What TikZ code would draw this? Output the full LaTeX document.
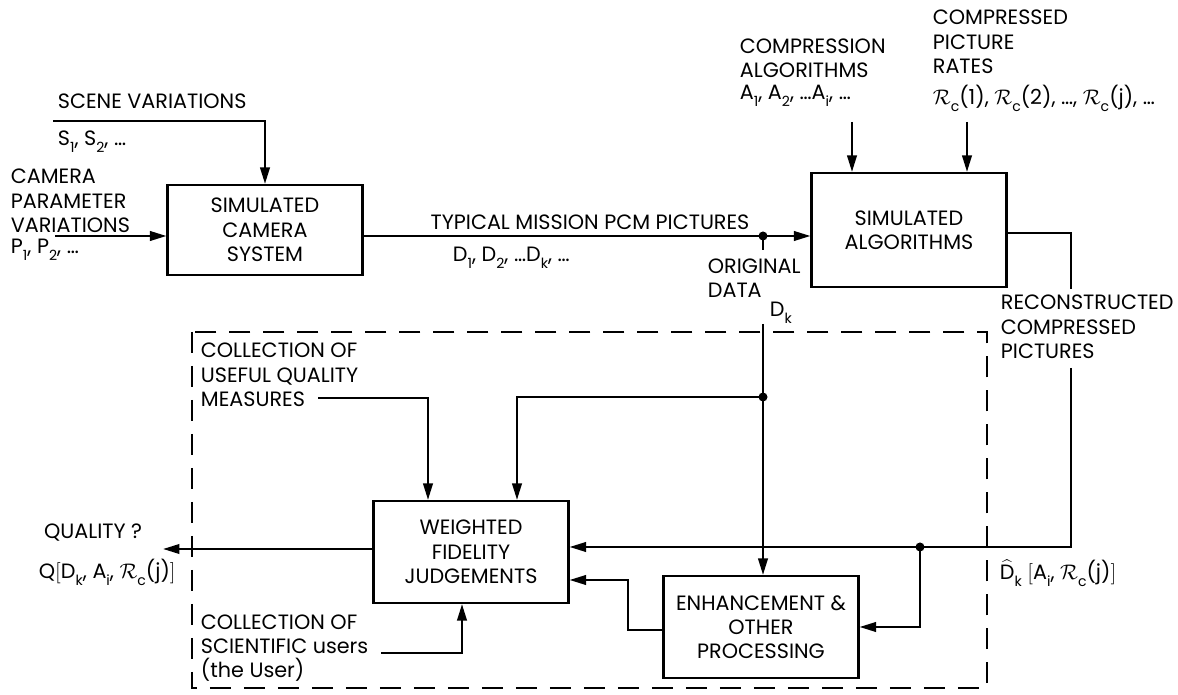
\documentclass[tikz,border=0pt]{standalone}
\usepackage{fontspec}
\setmainfont{Poppins}
\usetikzlibrary{arrows.meta}
\newcommand{\dn}[1]{\raisebox{-0.6ex}{\footnotesize #1}}
\newcommand{\Rc}{$\mathcal{R}$\dn{c}}
\begin{document}
\begin{tikzpicture}[
  x=0.02cm, y=-0.02cm,
  line width=1.3pt,
  every node/.style={font=\fontsize{11.8}{13.8}\selectfont, inner sep=1pt},
  box/.style={draw, line width=1.2pt, align=center, minimum width=3.9cm, minimum height=2.04cm},
  lbl/.style={align=left, anchor=west},
  arr/.style={-{Triangle[length=3.3mm,width=1.9mm]}},
  junction/.style={circle, fill, inner sep=0pt, minimum size=1.8mm},
  frame/.style={dash pattern=on 0.42cm off 0.26cm, line width=1.1pt}
]
\useasboundingbox (0,0) rectangle (1178,695);

% blocks
\node[box, minimum height=1.8cm] (cam) at (265,230) {SIMULATED\\CAMERA\\SYSTEM};
\node[box, minimum height=2.28cm] (alg) at (909,230) {SIMULATED\\ALGORITHMS};
\node[box] (wfj) at (471,552) {WEIGHTED\\FIDELITY\\JUDGEMENTS};
\node[box] (enh) at (761,627) {ENHANCEMENT \&\\OTHER\\PROCESSING};

\node[junction] (jo) at (763,236) {};
\node[junction] (jd) at (763,397) {};
\node[junction] (jr) at (920,547) {};

\coordinate (sv) at (53,121);
\coordinate (cp) at (55,236);
\coordinate (ca) at (852,122);
\coordinate (cr) at (967,122);
\coordinate (ot) at (763,250);
\coordinate (dk) at (763,324);
\coordinate (fd) at (517,397);
\coordinate (rt) at (1071,233);
\coordinate (rb) at (1071,289);
\coordinate (rr) at (1071,368);
\coordinate (rc) at (1071,547);
\coordinate (eo) at (628,630);
\coordinate (ek) at (628,580);
\coordinate (um) at (318,398);
\coordinate (umk) at (428,398);
\coordinate (su) at (381,653);
\coordinate (suk) at (462,653);
\coordinate (qo) at (163,549);

% dashed user frame
\draw[frame] (192,332) rectangle (987,688);

% connectors
\draw[arr] (sv) -| (cam.north);
\draw[arr] (cp) -- (cp -| cam.west);
\draw (cam.east |- jo) -- (jo.center);
\draw[arr] (jo.center) -- (jo -| alg.west);
\draw[arr] (ca) -- (ca |- alg.north);
\draw[arr] (cr) -- (cr |- alg.north);
\draw (jo.center) -- (ot);
\draw (dk) -- (jd.center);
\draw[arr] (jd.center) -- (jd |- enh.north);
\draw[arr] (jd.center) -- (fd) -- (fd |- wfj.north);
\draw (alg.east |- rt) -- (rt) -- (rb);
\draw (rr) -- (rc) -- (jr.center);
\draw[arr] (jr.center) -- (jr -| wfj.east);
\draw[arr] (jr.center) |- (enh.east);
\draw[arr] (enh.west |- eo) -- (eo) -- (ek) -- (ek -| wfj.east);
\draw[arr] (um) -- (umk) -- (umk |- wfj.north);
\draw[arr] (su) -- (suk) -- (suk |- wfj.south);
\draw[arr] (wfj.west |- qo) -- (qo);

% labels
\node[lbl] (scene) at (55,101) {SCENE VARIATIONS};
\node[lbl] (slist) at (55,142) {S\dn{1}, S\dn{2}, \dots};
\node[lbl] (camp) at (8,201) {CAMERA\\PARAMETER\\VARIATIONS};
\node[lbl] (plist) at (8,250) {P\dn{1}, P\dn{2}, \dots};
\node (typ) at (590,222) {TYPICAL MISSION PCM PICTURES};
\node[lbl] (dlist) at (450,258) {D\dn{1}, D\dn{2}, \dots D\dn{k}, \dots};
\node[lbl] (orig) at (705,278) {ORIGINAL\\DATA};
\node[lbl] (dklbl) at (767,313) {D\dn{k}};
\node[lbl] (calg) at (737,58) {COMPRESSION\\ALGORITHMS};
\node[lbl] (alist) at (737,96) {A\dn{1}, A\dn{2}, \dots A\dn{i}, \dots};
\node[lbl] (crate) at (930,42) {COMPRESSED\\PICTURE\\RATES};
\node[lbl] (rlist) at (930,98) {\Rc(1), \Rc(2), \dots, \Rc(j), \dots};
\node[lbl] (recon) at (998,327) {RECONSTRUCTED\\COMPRESSED\\PICTURES};
\node[lbl] (useful) at (198,375) {COLLECTION OF\\USEFUL QUALITY\\MEASURES};
\node[lbl] (sci) at (198,648) {COLLECTION OF\\SCIENTIFIC users\\(the User)};
\node[anchor=east] (qual) at (145,533) {QUALITY ?};
\node[lbl] (qexpr) at (36,572) {Q$\bigl[$D\dn{k}, A\dn{i}, \Rc(j)$\bigr]$};
\node[lbl] (dhat) at (997,573) {$\widehat{\mbox{D}}$\dn{k} $\bigl[$A\dn{i}, \Rc(j)$\bigr]$};
\end{tikzpicture}
\end{document}
